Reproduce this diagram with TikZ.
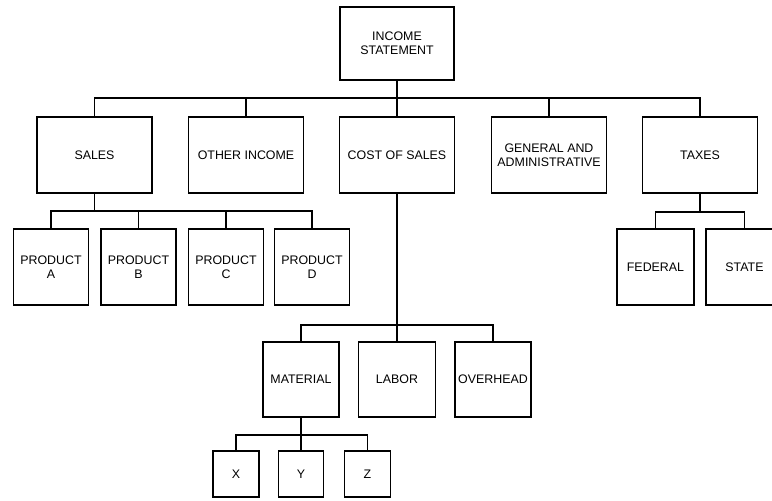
\documentclass[tikz,border=0pt]{standalone}
\usepackage{fontspec}
\setmainfont{Liberation Sans}
\usepackage{tikz}

\begin{document}
\begin{tikzpicture}[x=1pt,y=-1pt]
    \tikzset{
    blk/.style={draw,line width=1.8pt,minimum width=115pt,minimum height=76pt,inner sep=1pt,align=center,font=\fontsize{12.4}{13.8}\selectfont},
    sblk/.style={blk,minimum width=75pt},
    tblk/.style={blk,minimum width=46pt,minimum height=46pt},
    c1/.style={line width=1.3pt},
    }
    \useasboundingbox (0,0) rectangle (772,501);
    \clip (0,0) rectangle (772,501);

    \node[blk,minimum height=73pt,minimum width=114pt] (inc) at (397,43.5) {INCOME\\STATEMENT};

    \node[blk] (sales) at (94.5,155) {SALES};
    \node[blk] (oth) at (246,155) {OTHER INCOME};
    \node[blk] (cost) at (397,155) {COST OF SALES};
    \node[blk] (gen) at (549,155) {GENERAL AND\\ADMINISTRATIVE};
    \node[blk] (tax) at (700,155) {TAXES};

    \node[sblk] (pa) at (51,267) {PRODUCT\\A};
    \node[sblk] (pb) at (138.5,267) {PRODUCT\\B};
    \node[sblk] (pc) at (226,267) {PRODUCT\\C};
    \node[sblk] (pd) at (312,267) {PRODUCT\\D};

    \node[sblk,minimum width=77pt] (fed) at (655.5,267) {FEDERAL};
    \node[sblk,minimum width=77pt] (st) at (744.5,267) {STATE};

    \node[sblk,minimum width=76pt,minimum height=75pt] (mat) at (301,379.5) {MATERIAL};
    \node[sblk,minimum width=77pt,minimum height=75pt] (lab) at (397,379.5) {LABOR};
    \node[sblk,minimum width=76pt,minimum height=75pt] (ovh) at (493,379.5) {OVERHEAD};

    \node[tblk] (x) at (236,474) {X};
    \node[tblk,minimum width=45pt] (y) at (301,474) {Y};
    \node[tblk] (z) at (367.5,474) {Z};

    \coordinate (b0) at (397,98);
    \coordinate (b1) at (94.5,211);
    \coordinate (b2) at (700,212);
    \coordinate (b3) at (397,325);
    \coordinate (b4) at (301,435);

    \draw[c1] (inc.south) -- (cost.north);
    \draw[c1] (b0) -| (sales.north);
    \draw[c1] (b0) -| (oth.north);
    \draw[c1] (b0) -| (gen.north);
    \draw[c1] (b0) -| (tax.north);

    \draw[c1] (sales.south) -- (b1);
    \draw[c1] (b1) -| (pa.north);
    \draw[c1] (b1) -| (pb.north);
    \draw[c1] (b1) -| (pc.north);
    \draw[c1] (b1) -| (pd.north);

    \draw[c1] (tax.south) -- (b2);
    \draw[c1] (b2) -| (fed.north);
    \draw[c1] (b2) -| (st.north);

    \draw[c1] (cost.south) -- (lab.north);
    \draw[c1] (b3) -| (mat.north);
    \draw[c1] (b3) -| (ovh.north);

    \draw[c1] (mat.south) -- (y.north);
    \draw[c1] (b4) -| (x.north);
    \draw[c1] (b4) -| (z.north);

\end{tikzpicture}
\end{document}
